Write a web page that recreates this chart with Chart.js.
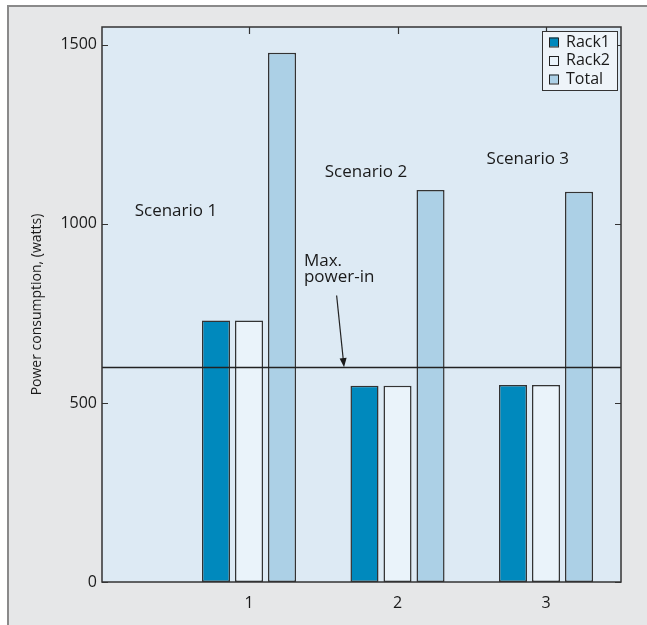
<!DOCTYPE html>
<html>
<head>
<meta charset="utf-8">
<script src="https://cdn.jsdelivr.net/npm/chart.js@4.4.0/dist/chart.umd.min.js"></script>
<style>
  html, body { margin: 0; padding: 0; background: #fff; }
  #wrap { width: 647px; height: 625px; }
</style>
</head>
<body>
<div id="wrap"><canvas id="grafica" width="647" height="625"></canvas></div>
<script>
// Datos
const escenarios = [1, 2, 3];
const rack1 = [730, 548, 550];
const rack2 = [730, 548, 550];
const total = [1478, 1095, 1090];
const maxPowerIn = 600;
const yTicks = [0, 500, 1000, 1500];
const nombres = ['Rack1', 'Rack2', 'Total'];
const colores = ['#0089bd', '#eaf3fa', '#acd0e6'];

// Textos sobre el area del grafico (en unidades de datos)
const notas = [
    { text: 'Scenario 1', x: 0.23, y: 1036 },
    { text: 'Scenario 2', x: 1.51, y: 1145 },
    { text: 'Scenario 3', x: 2.60, y: 1181 },
    { text: 'Max.', x: 1.37, y: 897 },
    { text: 'power-in', x: 1.37, y: 851 }
];
const flecha = { x1: 1.59, y1: 800, x2: 1.64, y2: maxPowerIn };

const FUENTE = '"Open Sans", "Noto Sans", sans-serif';
const TINTA = '#1a1a1a';

function puntos(valores) {
    return escenarios.map((x, i) => ({ x: x, y: valores[i] }));
}

const fondo = {
    id: 'fondo',
    beforeDraw(chart) {
        const { ctx, chartArea: a } = chart;
        ctx.save();
        ctx.fillStyle = '#fff';
        ctx.fillRect(0, 0, chart.width, chart.height);
        ctx.fillStyle = '#e6e7e8';
        ctx.fillRect(7, 5, chart.width, chart.height);
        ctx.strokeStyle = '#8a8a8a';
        ctx.lineWidth = 2;
        ctx.beginPath();
        ctx.moveTo(8, chart.height);
        ctx.lineTo(8, 6);
        ctx.lineTo(chart.width, 6);
        ctx.stroke();
        ctx.fillStyle = '#ddeaf4';
        ctx.fillRect(a.left, a.top, a.right - a.left, a.bottom - a.top);
        ctx.restore();
    }
};

const extras = {
    id: 'extras',
    afterDatasetsDraw(chart) {
        const { ctx, chartArea: a, scales: { x, y } } = chart;
        ctx.save();
        // linea de potencia maxima
        ctx.strokeStyle = '#222';
        ctx.lineWidth = 1.5;
        const yl = Math.round(y.getPixelForValue(maxPowerIn)) + 0.5;
        ctx.beginPath();
        ctx.moveTo(a.left, yl);
        ctx.lineTo(a.right, yl);
        ctx.stroke();

        // marco y marcas hacia dentro
        ctx.strokeStyle = '#333';
        ctx.lineWidth = 1.5;
        ctx.strokeRect(a.left, a.top, a.right - a.left, a.bottom - a.top);
        ctx.lineWidth = 1.2;
        ctx.beginPath();
        yTicks.forEach(v => {
            const py = Math.round(y.getPixelForValue(v)) + 0.5;
            ctx.moveTo(a.left, py); ctx.lineTo(a.left + 6, py);
            ctx.moveTo(a.right, py); ctx.lineTo(a.right - 6, py);
        });
        escenarios.forEach(v => {
            const px = Math.round(x.getPixelForValue(v)) + 0.5;
            ctx.moveTo(px, a.top); ctx.lineTo(px, a.top + 7);
        });
        ctx.stroke();

        // textos
        ctx.fillStyle = TINTA;
        ctx.font = '17px ' + FUENTE;
        ctx.textAlign = 'left';
        ctx.textBaseline = 'middle';
        notas.forEach(n => {
            ctx.fillText(n.text, x.getPixelForValue(n.x), y.getPixelForValue(n.y));
        });

        // flecha
        const x1 = x.getPixelForValue(flecha.x1), y1 = y.getPixelForValue(flecha.y1);
        const x2 = x.getPixelForValue(flecha.x2), y2 = y.getPixelForValue(flecha.y2);
        const ang = Math.atan2(y2 - y1, x2 - x1);
        ctx.strokeStyle = '#222';
        ctx.lineWidth = 1.2;
        ctx.beginPath();
        ctx.moveTo(x1, y1);
        ctx.lineTo(x2 - 7 * Math.cos(ang), y2 - 7 * Math.sin(ang));
        ctx.stroke();
        ctx.beginPath();
        ctx.moveTo(x2, y2);
        ctx.lineTo(x2 - 9 * Math.cos(ang) + 3.5 * Math.sin(ang), y2 - 9 * Math.sin(ang) - 3.5 * Math.cos(ang));
        ctx.lineTo(x2 - 9 * Math.cos(ang) - 3.5 * Math.sin(ang), y2 - 9 * Math.sin(ang) + 3.5 * Math.cos(ang));
        ctx.closePath();
        ctx.fill();

        // leyenda
        const lw = 75, lh = 59;
        const lx = a.right - 4 - lw, ly = a.top + 4;
        ctx.fillStyle = '#eef4f9';
        ctx.fillRect(lx, ly, lw, lh);
        ctx.strokeStyle = '#333';
        ctx.lineWidth = 1;
        ctx.strokeRect(lx + 0.5, ly + 0.5, lw, lh);
        ctx.font = '16px ' + FUENTE;
        chart.data.datasets.forEach((ds, i) => {
            const cy = ly + 11 + i * 18.5;
            ctx.fillStyle = ds.backgroundColor;
            ctx.fillRect(lx + 7, cy - 4.5, 9, 9);
            ctx.strokeStyle = '#222';
            ctx.strokeRect(lx + 7.5, cy - 4, 9, 9);
            ctx.fillStyle = TINTA;
            ctx.fillText(ds.label, lx + 24, cy);
        });
        ctx.restore();
    }
};

new Chart(document.getElementById('grafica'), {
    type: 'bar',
    data: {
        datasets: [rack1, rack2, total].map((vals, i) => ({
            label: nombres[i],
            data: puntos(vals),
            backgroundColor: colores[i],
            borderColor: '#333',
            borderWidth: 1.5,
            borderSkipped: false,
            categoryPercentage: 0.667,
            barPercentage: 0.85
        }))
    },
    options: {
        responsive: false,
        animation: false,
        layout: { padding: { left: 0, top: 27, right: 26, bottom: 0 } },
        plugins: { legend: { display: false }, tooltip: { enabled: false } },
        scales: {
            x: {
                type: 'linear',
                offset: false,
                min: 0.01,
                max: 3.505,
                grid: { display: false, drawTicks: false },
                border: { display: false },
                afterBuildTicks: s => { s.ticks = escenarios.map(v => ({ value: v })); },
                afterFit: s => { s.height = 43; },
                ticks: { padding: 12, color: TINTA, font: { family: FUENTE, size: 16 }, callback: v => String(v) }
            },
            y: {
                min: 0,
                max: 1550,
                grid: { display: false, drawTicks: false },
                border: { display: false },
                afterBuildTicks: s => { s.ticks = yTicks.map(v => ({ value: v })); },
                afterFit: s => { s.width = 102; },
                ticks: { padding: 5, color: TINTA, font: { family: FUENTE, size: 16 }, callback: v => String(v) },
                title: {
                    display: true,
                    text: 'Power consumption, (watts)',
                    color: TINTA,
                    font: { family: FUENTE, size: 14 },
                    padding: { top: 29, bottom: 0 }
                }
            }
        }
    },
    plugins: [fondo, extras]
});
</script>
</body>
</html>
